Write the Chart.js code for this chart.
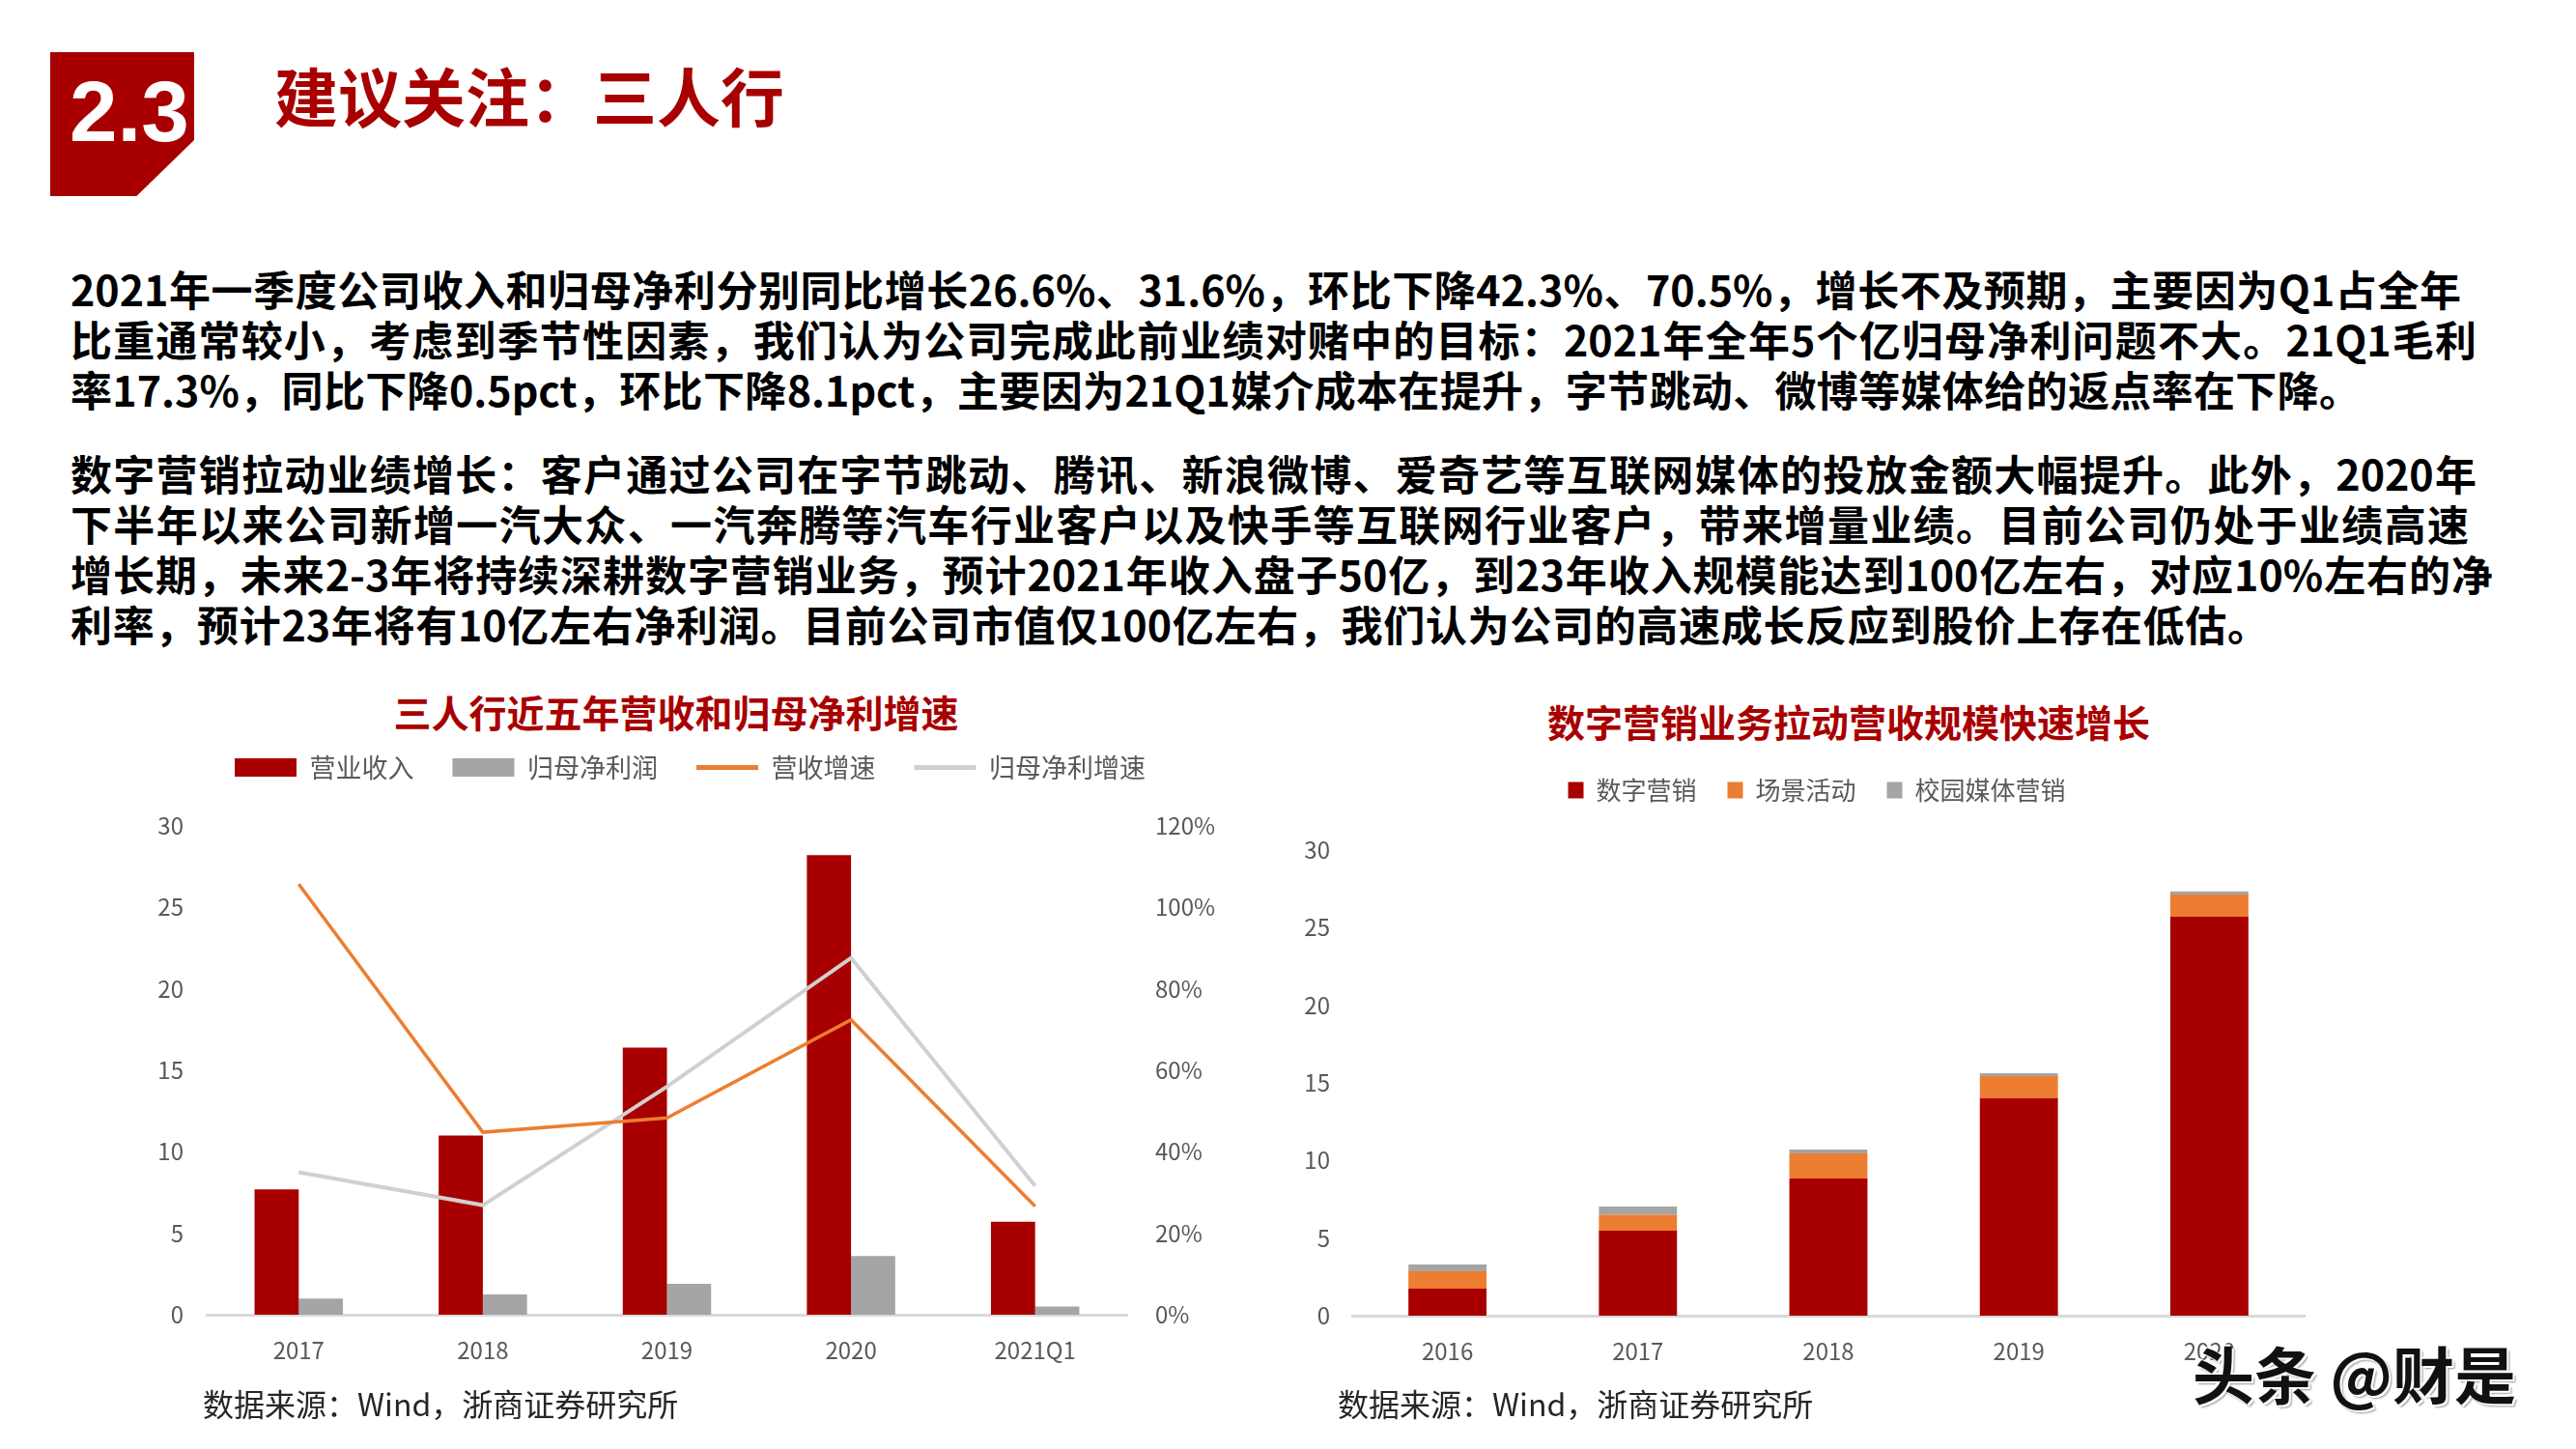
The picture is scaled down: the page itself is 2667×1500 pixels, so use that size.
<!DOCTYPE html>
<html lang="zh-CN">
<head>
<meta charset="utf-8">
<title>建议关注：三人行</title>
<script src="https://cdn.jsdelivr.net/npm/chart.js@4.4.1/dist/chart.umd.min.js"></script>
<style>
  html, body { margin: 0; padding: 0; background: #fff; }
  body { width: 2667px; height: 1500px; position: relative; overflow: hidden;
         font-family: "Noto Sans CJK SC", "Noto Sans", sans-serif; }
  .badge { position: absolute; left: 52px; top: 54px; width: 149px; height: 149px; background: #A80000;
           clip-path: polygon(0 0, 100% 0, 100% 61%, 60% 100%, 0 100%); }
  .badge-num { position: absolute; left: 72px; top: 64px; color: #fff; line-height: 89px;
               font: bold 89px "Liberation Sans", Arial, sans-serif; }
  .head { position: absolute; left: 284px; top: 64px; line-height: 66px; font-size: 66px;
          font-weight: 700; color: #A80000; white-space: nowrap; }
  .line { position: absolute; left: 73px; font-size: 43px; line-height: 52px; font-weight: 700; color: #000;
          white-space: nowrap; text-align: justify; text-align-last: justify; }
  .ctitle { position: absolute; width: 700px; text-align: center; font-size: 39px; line-height: 39px;
            font-weight: 700; color: #A80000; white-space: nowrap; }
  .src { position: absolute; font-size: 32px; line-height: 32px; color: #262626; white-space: nowrap; }
  canvas { position: absolute; }
  .mark { position: absolute; left: 2270px; top: 1386px; font-size: 64px; line-height: 68px; font-weight: 700;
          color: #111; white-space: nowrap; text-shadow: 2px 2px 0 #fff, -2px -2px 0 #fff, 3px 3px 2px #999; }
</style>
</head>
<body>
<div class="badge"></div>
<div class="badge-num">2.3</div>
<div class="head">建议关注：三人行</div>

<div class="line" style="top:272px; width:2475px">2021年一季度公司收入和归母净利分别同比增长26.6%、31.6%，环比下降42.3%、70.5%，增长不及预期，主要因为Q1占全年</div>
<div class="line" style="top:324px; width:2491px">比重通常较小，考虑到季节性因素，我们认为公司完成此前业绩对赌中的目标：2021年全年5个亿归母净利问题不大。21Q1毛利</div>
<div class="line" style="top:376px; width:2371px">率17.3%，同比下降0.5pct，环比下降8.1pct，主要因为21Q1媒介成本在提升，字节跳动、微博等媒体给的返点率在下降。</div>
<div class="line" style="top:463px; width:2491px">数字营销拉动业绩增长：客户通过公司在字节跳动、腾讯、新浪微博、爱奇艺等互联网媒体的投放金额大幅提升。此外，2020年</div>
<div class="line" style="top:515px; width:2483px">下半年以来公司新增一汽大众、一汽奔腾等汽车行业客户以及快手等互联网行业客户，带来增量业绩。目前公司仍处于业绩高速</div>
<div class="line" style="top:567px; width:2508px">增长期，未来2-3年将持续深耕数字营销业务，预计2021年收入盘子50亿，到23年收入规模能达到100亿左右，对应10%左右的净</div>
<div class="line" style="top:619px; width:2276px">利率，预计23年将有10亿左右净利润。目前公司市值仅100亿左右，我们认为公司的高速成长反应到股价上存在低估。</div>

<div class="ctitle" style="left:350px; top:717px">三人行近五年营收和归母净利增速</div>
<div class="ctitle" style="left:1564px; top:727px">数字营销业务拉动营收规模快速增长</div>

<canvas id="growth" width="1170" height="740" style="left:130px; top:700px"></canvas>
<canvas id="segments" width="1150" height="740" style="left:1300px; top:700px"></canvas>

<div class="src" style="left:210px; top:1436px">数据来源：Wind，浙商证券研究所</div>
<div class="src" style="left:1385px; top:1436px">数据来源：Wind，浙商证券研究所</div>
<div class="mark">头条 @财是</div>

<script>
// 三人行近五年营收和归母净利增速 (亿元 / %)
const years = ['2017', '2018', '2019', '2020', '2021Q1'];
const revenue = [7.7, 11.0, 16.4, 28.2, 5.7];
const netProfit = [1.0, 1.25, 1.9, 3.6, 0.5];
const revenueGrowth = [105.7, 44.8, 48.3, 72.4, 26.6];
const profitGrowth = [35.0, 26.9, 56.0, 87.6, 31.6];

// 数字营销业务拉动营收规模快速增长 (亿元)
const segYears = ['2016', '2017', '2018', '2019', '2020'];
const digital = [1.74, 5.48, 8.84, 14.02, 25.7];
const events = [1.12, 1.03, 1.61, 1.41, 1.43];
const campus = [0.44, 0.52, 0.25, 0.19, 0.21];

const RED = '#A80000';
const ORANGE = '#ED7D31';
const GRAY = '#A5A5A5';
const LIGHT = '#D0D0D0';
const TEXT = '#595959';
const FONT = "'Noto Sans CJK SC', 'Noto Sans', sans-serif";

Chart.defaults.font.family = FONT;
Chart.defaults.color = TEXT;

// legend box is made taller so the plot starts where it does in the picture,
// and nudged sideways because it is not centred on the plot there
const legendSpace = {
  id: 'legendSpace',
  beforeInit(chart, args, opts) {
    const legend = chart.legend;
    const fit = legend.fit;
    const draw = legend.draw;
    legend.fit = function () {
      fit.call(this);
      this.height = opts.height;
    };
    legend.draw = function () {
      const ctx = this.ctx;
      ctx.save();
      ctx.translate(opts.shift || 0, 0);
      draw.call(this);
      ctx.restore();
    };
  }
};

function legendItems(chart) {
  const items = Chart.defaults.plugins.legend.labels.generateLabels(chart);
  items.forEach(it => {
    const ds = chart.data.datasets[it.datasetIndex];
    if (ds.type === 'line') {
      it.pointStyle = 'line';
      it.strokeStyle = ds.borderColor;
      it.lineWidth = 5;
    } else {
      it.pointStyle = 'rect';
      it.fillStyle = ds.backgroundColor;
      it.lineWidth = 0;
    }
  });
  return items;
}

const tickFont = { family: FONT, size: 24 };

const growthChart = new Chart(document.getElementById('growth'), {
  data: {
    labels: years,
    datasets: [
      { type: 'bar', label: '营业收入', data: revenue, backgroundColor: RED, yAxisID: 'y',
        categoryPercentage: 0.48, barPercentage: 1, order: 2 },
      { type: 'bar', label: '归母净利润', data: netProfit, backgroundColor: GRAY, yAxisID: 'y',
        categoryPercentage: 0.48, barPercentage: 1, order: 2 },
      { type: 'line', label: '营收增速', data: revenueGrowth, borderColor: ORANGE, backgroundColor: ORANGE,
        borderWidth: 3.5, pointRadius: 0, yAxisID: 'pct', order: 0 },
      { type: 'line', label: '归母净利增速', data: profitGrowth, borderColor: LIGHT, backgroundColor: LIGHT,
        borderWidth: 4, pointRadius: 0, yAxisID: 'pct', order: 1 }
    ]
  },
  options: {
    responsive: false,
    animation: false,
    layout: { padding: { top: 41, left: 0, right: 33, bottom: 0 } },
    scales: {
      x: {
        grid: { display: false, drawTicks: false },
        border: { display: true, color: '#D9D9D9', width: 3 },
        ticks: { color: TEXT, font: tickFont, padding: 22 },
        afterFit: s => { s.height = 79; }
      },
      y: {
        position: 'left', min: 0, max: 30,
        grid: { display: false, drawTicks: false },
        border: { display: false },
        ticks: { stepSize: 5, color: TEXT, font: tickFont, padding: 24 },
        afterFit: s => { s.width = 84; }
      },
      pct: {
        position: 'right', min: 0, max: 120,
        grid: { display: false, drawTicks: false },
        border: { display: false },
        ticks: { stepSize: 20, color: TEXT, font: tickFont, padding: 29, callback: v => v + '%' },
        afterFit: s => { s.width = 100; }
      }
    },
    plugins: {
      legendSpace: { height: 114, shift: 16 },
      legend: {
        position: 'top',
        labels: {
          usePointStyle: true, pointStyleWidth: 64, boxHeight: 19, padding: 40,
          color: TEXT, font: { family: FONT, size: 27 },
          generateLabels: legendItems,
          sort: (a, b) => a.datasetIndex - b.datasetIndex
        }
      },
      tooltip: { enabled: false }
    }
  },
  plugins: [legendSpace]
});

const segmentChart = new Chart(document.getElementById('segments'), {
  type: 'bar',
  data: {
    labels: segYears,
    datasets: [
      { label: '数字营销', data: digital, backgroundColor: RED },
      { label: '场景活动', data: events, backgroundColor: ORANGE },
      { label: '校园媒体营销', data: campus, backgroundColor: GRAY }
    ]
  },
  options: {
    responsive: false,
    animation: false,
    datasets: { bar: { categoryPercentage: 0.41, barPercentage: 1 } },
    layout: { padding: { top: 73, left: 0, right: 64, bottom: 0 } },
    scales: {
      x: {
        stacked: true,
        grid: { display: false, drawTicks: false },
        border: { display: true, color: '#D9D9D9', width: 3 },
        ticks: { color: TEXT, font: tickFont, padding: 22 },
        afterFit: s => { s.height = 78; }
      },
      y: {
        stacked: true, min: 0, max: 30,
        grid: { display: false, drawTicks: false },
        border: { display: false },
        ticks: { stepSize: 5, color: TEXT, font: tickFont, padding: 23 },
        afterFit: s => { s.width = 100; }
      }
    },
    plugins: {
      legendSpace: { height: 107, shift: 38 },
      legend: {
        position: 'top',
        labels: {
          usePointStyle: true, pointStyleWidth: 16, boxHeight: 17, padding: 32,
          color: TEXT, font: { family: FONT, size: 26 },
          generateLabels: legendItems
        }
      },
      tooltip: { enabled: false }
    }
  },
  plugins: [legendSpace]
});
</script>
</body>
</html>
